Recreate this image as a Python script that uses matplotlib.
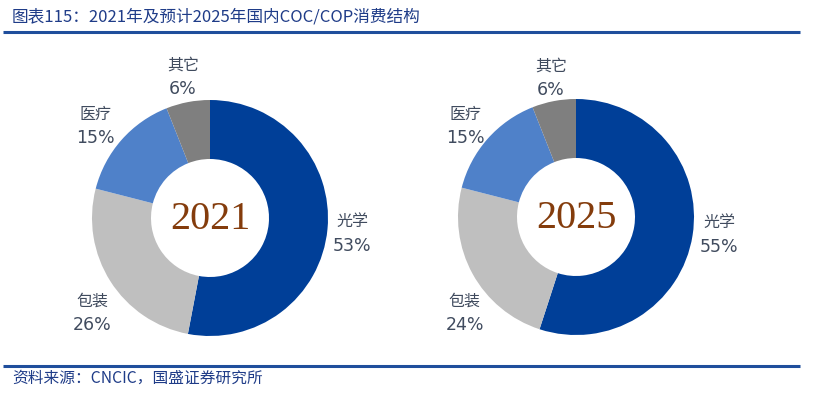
import numpy as np
import matplotlib
matplotlib.use("Agg")
import matplotlib.pyplot as plt

plt.rcParams['font.family'] = ['Noto Sans CJK SC', 'DejaVu Sans']

title = "图表115：2021年及预计2025年国内COC/COP消费结构"
source = "资料来源：CNCIC，国盛证券研究所"
categories = ["光学", "包装", "医疗", "其它"]
years = ["2021", "2025"]
values_2021 = [53, 26, 15, 6]
values_2025 = [55, 24, 15, 6]
colors = ["#003F98", "#BFBFBF", "#4F81C9", "#7F7F7F"]

W, H = 826, 394
fig = plt.figure(figsize=(W / 100, H / 100), dpi=100)
ax = fig.add_axes([0, 0, 1, 1])

def fy(y):
    return H - y

centers = [(210, 218), (576, 217)]
R = 118
label_color = "#404B5E"
# label nudges in pixels (dx, dy downwards), per pie
nudges = [
    [(-2, 2), (5, 17), (-6, 4), (0, 2)],
    [(0, -5), (16, 26), (-2, 5), (2, 4)],
]

for (cx, cy), vals, yr, nd in zip(centers, [values_2021, values_2025], years, nudges):
    wedges, _ = ax.pie(vals, colors=colors, startangle=90, counterclock=False,
                       center=(cx, fy(cy)), radius=R,
                       wedgeprops=dict(width=R * 0.5, edgecolor="none"))
    for w, cat, v, (ndx, ndy) in zip(wedges, categories, vals, nd):
        mid = np.deg2rad((w.theta1 + w.theta2) / 2)
        d = R * 1.23
        x = cx + d * np.cos(mid) + ndx
        y = fy(cy) + d * np.sin(mid) - ndy
        ax.text(x, y + 12, cat, ha="center", va="center", fontsize=11.5,
                color=label_color)
        ax.text(x, y - 12, f"{v}%", ha="center", va="center", fontsize=12.5,
                color=label_color, family=['DejaVu Sans'])
    ax.text(cx, fy(cy) - 1, yr, ha="center", va="center", fontsize=29,
            color="#843C0C", family=['Liberation Serif'])

ax.set_xlim(0, W)
ax.set_ylim(0, H)
ax.set_aspect("auto")
ax.axis("off")

# header/footer
fig.text(12 / W, 1 - 17 / H, title, ha="left", va="center", fontsize=12,
         color="#1F3C88", style="italic")
ax.plot([3, 800], [fy(32), fy(32)], color="#1F4E9C", lw=2.2, solid_capstyle="butt")
ax.plot([3, 800], [fy(366), fy(366)], color="#1F4E9C", lw=2.2, solid_capstyle="butt")
fig.text(12 / W, 1 - 378 / H, source, ha="left", va="center", fontsize=11.3,
         color="#1F3C88", style="italic")

fig.savefig("out.png", dpi=100)
